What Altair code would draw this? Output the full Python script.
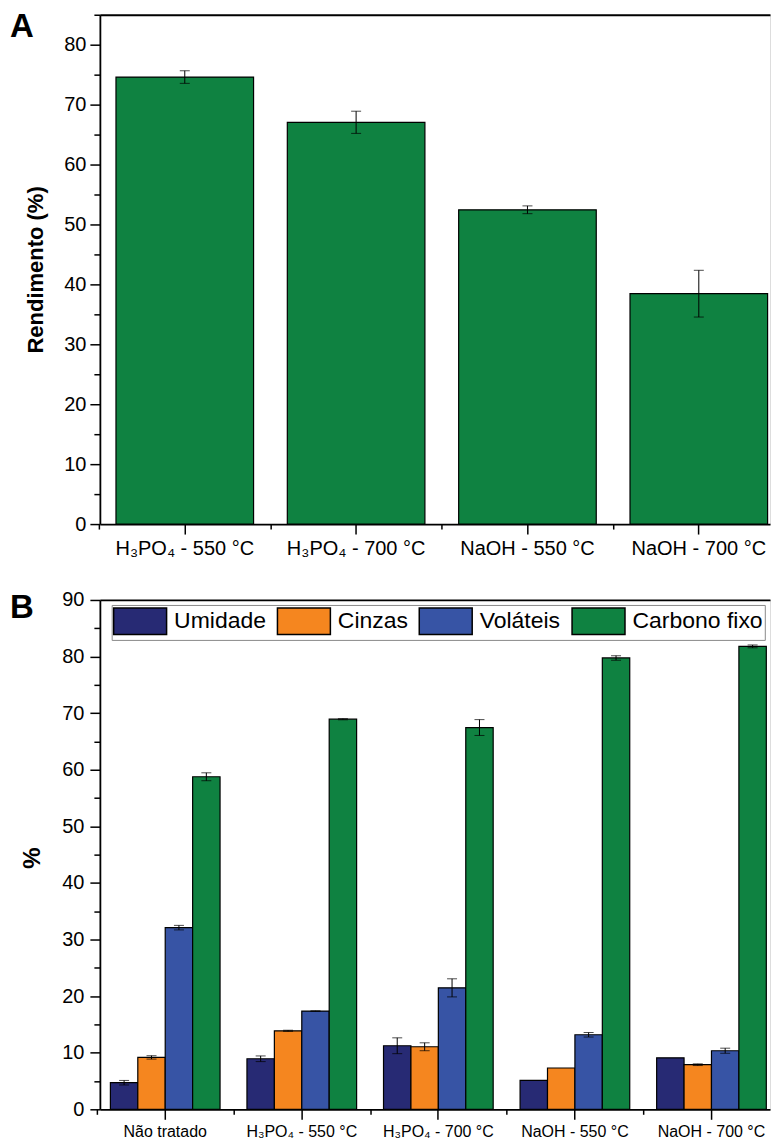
import altair as alt
import pandas as pd

FONT = "Liberation Sans"

# ---------------- data: panel A ----------------
a_samples = ["H₃PO₄ - 550 °C", "H₃PO₄ - 700 °C", "NaOH - 550 °C", "NaOH - 700 °C"]
a_yield = [74.6, 67.05, 52.45, 38.45]
a_err = [1.05, 1.85, 0.65, 3.9]
a_major = [0, 10, 20, 30, 40, 50, 60, 70, 80]
a_minor = [5, 15, 25, 35, 45, 55, 65, 75, 85]

# ---------------- data: panel B ----------------
b_samples = ["Não tratado", "H₃PO₄ - 550 °C", "H₃PO₄ - 700 °C", "NaOH - 550 °C", "NaOH - 700 °C"]
b_series = ["Umidade", "Cinzas", "Voláteis", "Carbono fixo"]
b_umidade = [4.7, 8.93, 11.23, 5.1, 9.1]
b_umidade_err = [0.4, 0.5, 1.4, 0.0, 0.0]
b_cinzas = [9.17, 13.87, 11.05, 7.3, 7.88]
b_cinzas_err = [0.3, 0.1, 0.7, 0.0, 0.15]
b_volateis = [32.1, 17.35, 21.46, 13.17, 10.35]
b_volateis_err = [0.4, 0.05, 1.6, 0.4, 0.45]
b_carbono = [58.76, 68.93, 67.46, 79.76, 81.8]
b_carbono_err = [0.7, 0.1, 1.4, 0.4, 0.25]
b_major = [0, 10, 20, 30, 40, 50, 60, 70, 80, 90]
b_minor = [5, 15, 25, 35, 45, 55, 65, 75, 85]

GREEN = "#0f8241"
colors = ["#272a74", "#f5861f", "#3754a5", GREEN]

# ---------------- layout constants ----------------
W = 671
H = 510
PI = 0.197
PO_A, AL_A = 0.054, 0.87
PO_B, AL_B = 0.052, 0.74
stepA = W / (len(a_samples) - PI + 2 * PO_A)
stepB = W / (len(b_samples) - PI + 2 * PO_B)

ax = dict(domainColor="black", tickColor="black", labelColor="black",
          labelFont=FONT, titleFont=FONT, titleColor="black",
          domainWidth=1.8, tickWidth=1.5, grid=False)

# ---------------- panel A ----------------
dfA = pd.DataFrame({"Amostra": a_samples, "Rendimento": a_yield, "Erro": a_err})
dfA["lo"] = dfA["Rendimento"] - dfA["Erro"]
dfA["hi"] = dfA["Rendimento"] + dfA["Erro"]
capsA = pd.concat([
    pd.DataFrame({"Amostra": a_samples, "v": dfA["lo"]}),
    pd.DataFrame({"Amostra": a_samples, "v": dfA["hi"]}),
])

xA = alt.Scale(domain=a_samples, paddingInner=PI, paddingOuter=PO_A, align=AL_A)
yA = alt.Scale(domain=[0, 85], nice=False, zero=True)

barsA = alt.Chart(dfA).mark_bar(color=GREEN, stroke="black", strokeWidth=1.2).encode(
    x=alt.X("Amostra:N", sort=a_samples, scale=xA,
            axis=alt.Axis(title=None, labelAngle=0, labelFontSize=20, tickSize=10,
                          labelPadding=4, orient="bottom", **ax)),
    y=alt.Y("Rendimento:Q", scale=yA,
            axis=alt.Axis(values=a_major, title="Rendimento (%)", titleFontSize=22,
                          titleFontWeight="bold", titleX=-64.5, titleY=H / 2,
                          titleBaseline="middle", titleAngle=270,
                          labelFontSize=20, tickSize=10, labelPadding=4,
                          orient="left", **ax)),
)
errA = alt.Chart(dfA).mark_rule(color="black", strokeWidth=1).encode(
    x=alt.X("Amostra:N", sort=a_samples, scale=xA,
            axis=alt.Axis(orient="bottom", labels=False, title=None, tickSize=5,
                          tickOffset=-stepA / 2, domain=False, tickColor="black",
                          tickWidth=1.5, grid=False)),
    y=alt.Y("lo:Q", scale=yA,
            axis=alt.Axis(orient="left", values=a_minor, labels=False, title=None,
                          tickSize=6, domain=False, tickColor="black", tickWidth=1.5,
                          grid=False)),
    y2="hi:Q",
)
capA = alt.Chart(capsA).mark_tick(color="black", thickness=1, size=10).encode(
    x=alt.X("Amostra:N", sort=a_samples, scale=xA,
            axis=alt.Axis(orient="top", labels=False, ticks=False, title=None,
                          domainColor="black", domainWidth=1.8, grid=False)),
    y=alt.Y("v:Q", scale=yA, axis=None),
)
letterA = alt.Chart(pd.DataFrame({"t": ["A"]})).mark_text(
    font=FONT, fontSize=33, fontWeight="bold", color="black", align="left",
    baseline="alphabetic").encode(x=alt.value(-90), y=alt.value(22.7), text="t:N")

panelA = alt.layer(barsA, errA, capA, letterA).resolve_axis(
    x="independent", y="independent").properties(width=W, height=H)

# ---------------- panel B ----------------
vals = [b_umidade, b_cinzas, b_volateis, b_carbono]
errs = [b_umidade_err, b_cinzas_err, b_volateis_err, b_carbono_err]
rows = []
for s, vv, ee in zip(b_series, vals, errs):
    for a, v, e in zip(b_samples, vv, ee):
        rows.append({"Amostra": a, "Serie": s, "Valor": v, "Erro": e,
                     "lo": v - e, "hi": v + e})
dfB = pd.DataFrame(rows)
dfBe = dfB[dfB["Erro"] > 0]
capsB = pd.concat([
    dfBe[["Amostra", "Serie"]].assign(v=dfBe["lo"]),
    dfBe[["Amostra", "Serie"]].assign(v=dfBe["hi"]),
])

xB = alt.Scale(domain=b_samples, paddingInner=PI, paddingOuter=PO_B, align=AL_B)
xoB = alt.Scale(domain=b_series, paddingInner=0, paddingOuter=0)
yB = alt.Scale(domain=[0, 90], nice=False, zero=True)

legendB = alt.Legend(
    title=None, orient="none", legendX=11.8, legendY=5, direction="horizontal",
    symbolType="M-2,-1H2V1H-2Z", symbolSize=702.25, symbolStrokeColor="black",
    symbolStrokeWidth=1.5, symbolOffset=12.5, labelOffset=20, columnPadding=8,
    labelFont=FONT, labelFontSize=23, labelColor="black", labelLimit=300,
    padding=2, strokeColor="#8a8a8a", fillColor="white", symbolOpacity=1,
)

barsB = alt.Chart(dfB).mark_bar(stroke="black", strokeWidth=1.2, opacity=1).encode(
    x=alt.X("Amostra:N", sort=b_samples, scale=xB,
            axis=alt.Axis(title=None, labelAngle=0, labelFontSize=16, tickSize=10,
                          labelPadding=4, orient="bottom", **ax)),
    xOffset=alt.XOffset("Serie:N", sort=b_series, scale=xoB),
    y=alt.Y("Valor:Q", scale=yB,
            axis=alt.Axis(values=b_major, title="%", titleFontSize=24,
                          titleFontWeight="bold", titleX=-67, titleY=258,
                          titleBaseline="middle", titleAngle=270,
                          labelFontSize=20, tickSize=10, labelPadding=6,
                          orient="left", **ax)),
    color=alt.Color("Serie:N", sort=b_series,
                    scale=alt.Scale(domain=b_series, range=colors), legend=legendB),
)
errB = alt.Chart(dfBe).mark_rule(color="black", strokeWidth=1).encode(
    x=alt.X("Amostra:N", sort=b_samples, scale=xB,
            axis=alt.Axis(orient="bottom", labels=False, title=None, tickSize=5,
                          tickOffset=-stepB / 2, domain=False, tickColor="black",
                          tickWidth=1.5, grid=False)),
    xOffset=alt.XOffset("Serie:N", sort=b_series, scale=xoB),
    y=alt.Y("lo:Q", scale=yB,
            axis=alt.Axis(orient="left", values=b_minor, labels=False, title=None,
                          tickSize=6, domain=False, tickColor="black", tickWidth=1.5,
                          grid=False)),
    y2="hi:Q",
)
capB = alt.Chart(capsB).mark_tick(color="black", thickness=1, size=10).encode(
    x=alt.X("Amostra:N", sort=b_samples, scale=xB,
            axis=alt.Axis(orient="top", labels=False, ticks=False, title=None,
                          domainColor="black", domainWidth=1.8, grid=False)),
    xOffset=alt.XOffset("Serie:N", sort=b_series, scale=xoB),
    y=alt.Y("v:Q", scale=yB, axis=None),
)
letterB = alt.Chart(pd.DataFrame({"t": ["B"]})).mark_text(
    font=FONT, fontSize=33, fontWeight="bold", color="black", align="left",
    baseline="alphabetic").encode(x=alt.value(-90), y=alt.value(17.7), text="t:N")

panelB = alt.layer(barsB, errB, capB, letterB).resolve_axis(
    x="independent", y="independent").properties(width=W, height=H)

chart = alt.vconcat(panelA, panelB, spacing=30).resolve_legend(
    color="independent").properties(
    padding={"left": 1, "top": 2, "right": 0, "bottom": 0},
    background="white",
).configure_view(stroke=None).configure(font=FONT)

chart.save("out.html", embed_options={"renderer": "svg", "actions": False})
